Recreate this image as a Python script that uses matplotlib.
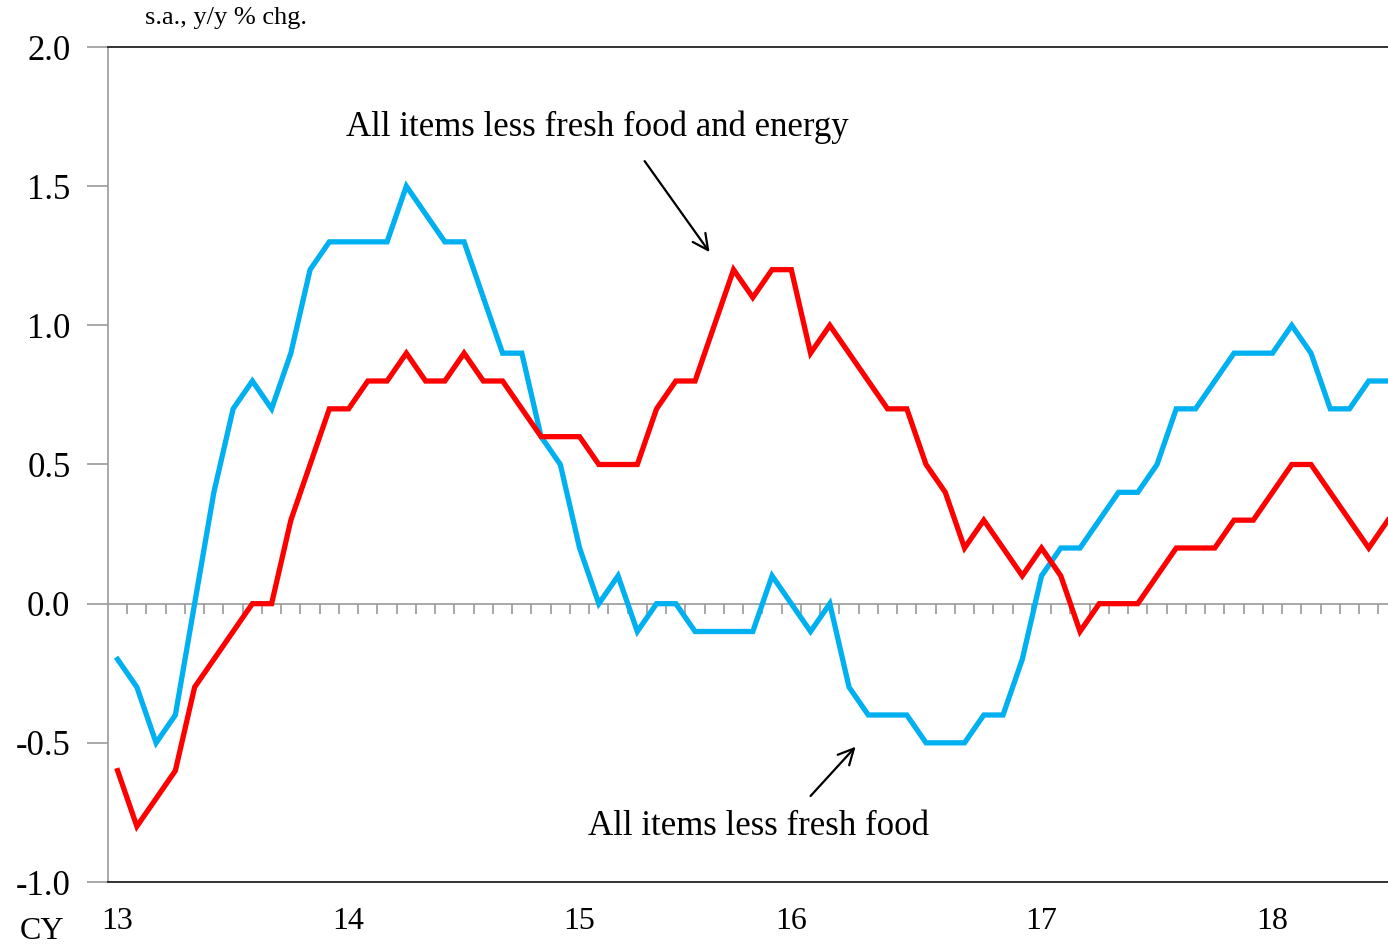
import numpy as np
import matplotlib
matplotlib.use('Agg')
import matplotlib.pyplot as plt

plt.rcParams['font.family'] = ['Liberation Serif', 'DejaVu Serif']

# CPI, monthly from Jan 2013, s.a. y/y % chg
less_fresh = [-0.2, -0.3, -0.5, -0.4, 0.0, 0.4, 0.7, 0.8, 0.7, 0.9, 1.2, 1.3,
              1.3, 1.3, 1.3, 1.5, 1.4, 1.3, 1.3, 1.1, 0.9, 0.9, 0.6, 0.5,
              0.2, 0.0, 0.1, -0.1, 0.0, 0.0, -0.1, -0.1, -0.1, -0.1, 0.1, 0.0,
              -0.1, 0.0, -0.3, -0.4, -0.4, -0.4, -0.5, -0.5, -0.5, -0.4, -0.4, -0.2,
              0.1, 0.2, 0.2, 0.3, 0.4, 0.4, 0.5, 0.7, 0.7, 0.8, 0.9, 0.9,
              0.9, 1.0, 0.9, 0.7, 0.7, 0.8, 0.8]
less_fresh_energy = [-0.6, -0.8, -0.7, -0.6, -0.3, -0.2, -0.1, 0.0, 0.0, 0.3, 0.5, 0.7,
                     0.7, 0.8, 0.8, 0.9, 0.8, 0.8, 0.9, 0.8, 0.8, 0.7, 0.6, 0.6,
                     0.6, 0.5, 0.5, 0.5, 0.7, 0.8, 0.8, 1.0, 1.2, 1.1, 1.2, 1.2,
                     0.9, 1.0, 0.9, 0.8, 0.7, 0.7, 0.5, 0.4, 0.2, 0.3, 0.2, 0.1,
                     0.2, 0.1, -0.1, 0.0, 0.0, 0.0, 0.1, 0.2, 0.2, 0.2, 0.3, 0.3,
                     0.4, 0.5, 0.5, 0.4, 0.3, 0.2, 0.3]
year_labels = ['13', '14', '15', '16', '17', '18']
year_pos = [0, 12, 24, 35, 48, 60]
y_ticks = [-1.0, -0.5, 0.0, 0.5, 1.0, 1.5, 2.0]

x = np.arange(len(less_fresh))

fig = plt.figure(figsize=(13.88, 9.46), dpi=100)
ax = fig.add_axes([108/1388, 1 - 882/946, 1 - 108/1388, (882 - 47)/946])

ax.plot(x, less_fresh, color='#00B0F0', lw=3.8, solid_joinstyle='miter')
ax.plot(x, less_fresh_energy, color='#FF0000', lw=3.8, solid_joinstyle='miter')

# linha do zero com marcas mensais
ax.axhline(0, color='#999999', lw=1.2, zorder=0)
ax.vlines(x + 0.5, -0.036, 0, color='#999999', lw=1.2, zorder=0)

ax.set_xlim(-0.5, 66)
ax.set_ylim(-1.0, 2.0)
ax.set_yticks(y_ticks)
ax.set_yticklabels(['%.1f' % v for v in y_ticks], fontsize=25)
ax.tick_params(axis='y', length=15, color='#999999', width=1.2, pad=12)
ax.set_xticks(year_pos)
ax.set_xticklabels(year_labels, fontsize=23)
ax.tick_params(axis='x', length=0, pad=18)

ax.spines['right'].set_visible(False)
ax.spines['left'].set_color('#999999')
ax.spines['left'].set_linewidth(1.2)
ax.spines['top'].set_color('#222222')
ax.spines['bottom'].set_color('#222222')
ax.spines['top'].set_linewidth(1.3)
ax.spines['bottom'].set_linewidth(1.3)

fig.text(145/1388, 1 - 18/946, 's.a., y/y % chg.', fontsize=19, va='center', ha='left')
fig.text(42/1388, 1 - 931/946, 'CY', fontsize=23, va='center', ha='center')

ax.text(24.94, 1.713, 'All items less fresh food and energy', ha='center', va='center', fontsize=25)
ax.text(33.3, -0.802, 'All items less fresh food', ha='center', va='center', fontsize=25)
arrow = dict(arrowstyle='->', color='black', lw=1.6, mutation_scale=28, shrinkA=0, shrinkB=0)
ax.annotate('', xy=(30.75, 1.263), xytext=(27.38, 1.590), arrowprops=arrow)
ax.annotate('', xy=(38.34, -0.514), xytext=(36.0, -0.691), arrowprops=arrow)

fig.savefig('out.png', dpi=100)
